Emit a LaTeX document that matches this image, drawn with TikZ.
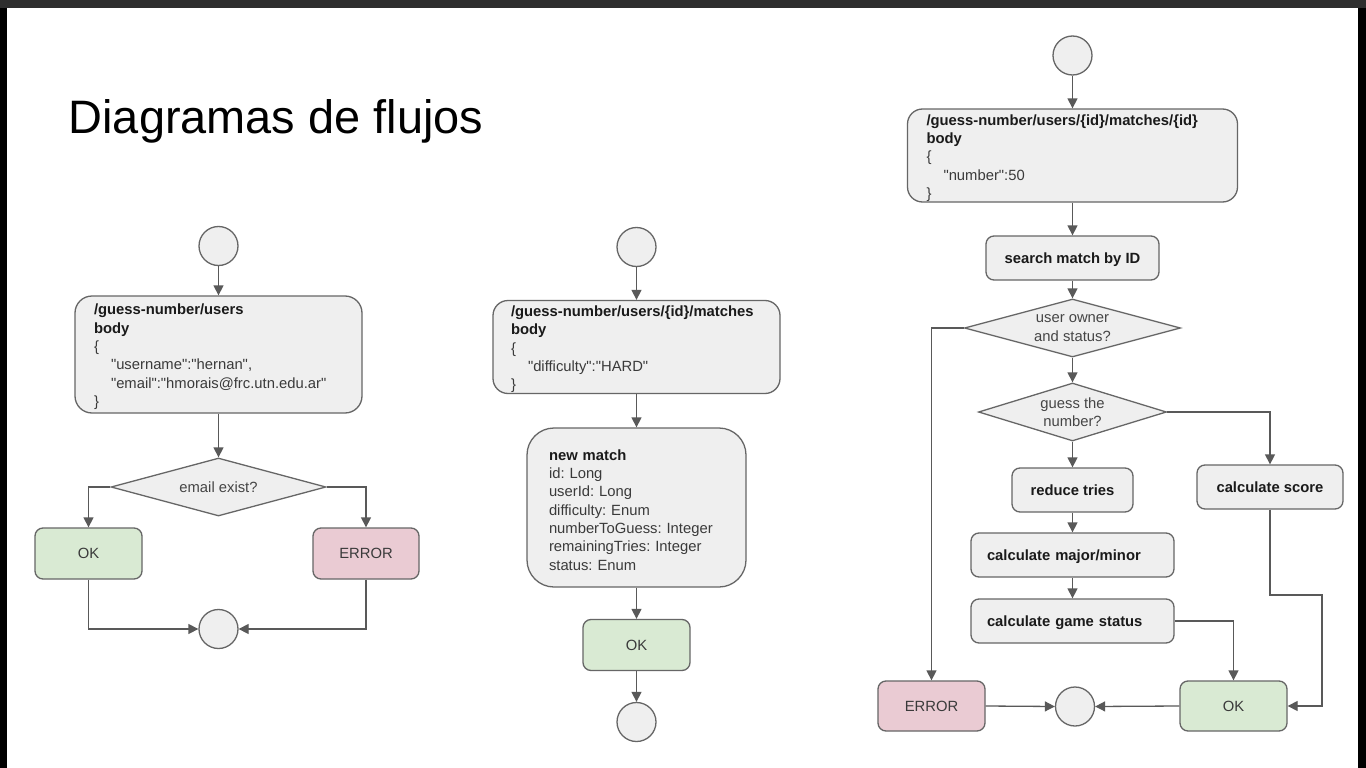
\documentclass[tikz,border=0pt]{standalone}
\usepackage{fontspec}
\setmainfont{Liberation Sans}
\usetikzlibrary{shapes.geometric,arrows.meta}
\definecolor{boxfill}{HTML}{EFEFEF}
\definecolor{linec}{HTML}{666666}
\definecolor{arrowc}{HTML}{595959}
\definecolor{okfill}{HTML}{D9EAD3}
\definecolor{errfill}{HTML}{EACBD3}
\definecolor{txt}{HTML}{3A3A3A}
\definecolor{boldc}{HTML}{1A1A1A}
\definecolor{diatext}{HTML}{454545}
\definecolor{topbar}{HTML}{2E2E2E}
\newcommand\flowfont{\fontsize{14.8}{18.3}\selectfont\frenchspacing}
\newcommand\hb[1]{\textbf{\color{boldc}#1}}
\newcommand\qq{\textquotedbl}
\newcommand\toprule{\rule{0pt}{15.5pt}}
\tikzset{
  flow/.style={draw=linec, line width=1.3pt, fill=boxfill},
  circ/.style={circle, flow, minimum size=39pt, inner sep=0pt},
  proc/.style={rectangle, rounded corners=8pt, flow, inner sep=0pt, minimum height=44pt, text height=10.8pt, text depth=0pt, font=\flowfont\bfseries, text=boldc},
  okbox/.style={proc, fill=okfill, font=\flowfont, text=txt, minimum width=107pt, minimum height=51pt},
  errbox/.style={proc, fill=errfill, font=\flowfont, text=txt, minimum width=107pt, minimum height=51pt},
  dec/.style={diamond, flow, inner sep=0pt, font=\flowfont, text=diatext, align=center},
  bigbox/.style={rectangle, flow, align=left, inner ysep=0pt, font=\flowfont, text=txt},
  conn/.style={draw=arrowc, line width=1.3pt, -{Triangle[length=10pt,width=10pt]}},
}
\begin{document}
\begin{tikzpicture}[x=1pt,y=-1pt]
\path[use as bounding box] (0,0) rectangle (1366,768);
\fill[white] (0,0) rectangle (1366,768);
\fill[topbar] (0,0) rectangle (1366,8);
\fill[black] (0,8) rectangle (7,768);
\fill[black] (1358,8) rectangle (1366,768);

\node[anchor=base west, inner sep=0pt, font=\fontsize{46.9}{56}\selectfont, text=black] (title) at (68.5,133) {Diagramas de flujos};

% ---------- left flow ----------
\node[circ] (s1) at (218.5,246) {};
\node[bigbox, rounded corners=17pt, text width=249pt, inner xsep=19pt, minimum height=117pt] (b1) at (218.5,354.5)
 {\toprule\hb{/guess-number/users}\\ \hb{body}\\ \{\\ \hspace*{17pt}\qq username\qq:\qq hernan\qq,\\ \hspace*{17pt}\qq email\qq:\qq hmorais@frc.utn.edu.ar\qq\\ \}};
\node[dec, minimum width=215pt, minimum height=58pt, shape aspect=3.7] (d1) at (218.5,487) {email exist?};
\node[okbox] (ok1) at (88.5,553.5) {OK};
\node[errbox, minimum width=106pt] (err1) at (366,553.5) {ERROR};
\node[circ] (e1) at (218.5,629) {};
\draw[conn] (s1) -- (b1);
\draw[conn] (b1) -- (d1);
\draw[conn] (d1.west) -| (ok1.north);
\draw[conn] (d1.east) -| (err1.north);
\draw[conn] (ok1.south) |- (e1.west);
\draw[conn] (err1.south) |- (e1.east);

% ---------- middle flow ----------
\node[circ] (s2) at (636.5,247) {};
\node[bigbox, rounded corners=15pt, text width=251pt, inner xsep=18pt, minimum height=93pt] (b2) at (636.5,347)
 {\toprule\hb{/guess-number/users/\{id\}/matches}\\ \hb{body}\\ \{\\ \hspace*{17pt}\qq difficulty\qq:\qq HARD\qq\\ \}};
\node[bigbox, rounded corners=27pt, text width=175pt, inner xsep=22pt, minimum height=159pt] (b3) at (636.5,507.5)
 {\toprule\hb{new match}\\ id: Long\\ userId: Long\\ difficulty: Enum\\ numberToGuess: Integer\\ remainingTries: Integer\\ status: Enum};
\node[okbox] (ok2) at (636.5,645) {OK};
\node[circ] (e2) at (636.5,722) {};
\draw[conn] (s2) -- (b2);
\draw[conn] (b2) -- (b3);
\draw[conn] (b3) -- (ok2);
\draw[conn] (ok2) -- (e2);

% ---------- right flow ----------
\node[circ] (s3) at (1072.5,55.5) {};
\node[bigbox, rounded corners=15pt, text width=292pt, inner xsep=19pt, minimum height=93pt] (b4) at (1072.5,155.5)
 {\toprule\hb{/guess-number/users/\{id\}/matches/\{id\}}\\ \hb{body}\\ \{\\ \hspace*{17pt}\qq number\qq:50\\ \}};
\node[proc, minimum width=173pt] (sr) at (1072.5,258) {search match by ID};
\node[dec, minimum width=216pt, minimum height=58pt, shape aspect=3.7] (d2) at (1072.5,328) {user owner\\and status?};
\node[dec, minimum width=188pt, minimum height=58pt, shape aspect=3.2] (d3) at (1072.5,412) {guess the\\number?};
\node[proc, minimum width=121pt] (rt) at (1072.5,490) {reduce tries};
\node[proc, minimum width=146pt] (cs) at (1270,487) {calculate score};
\node[proc, text width=171pt, align=left, inner xsep=16pt] (mm) at (1072.5,555) {calculate major/minor};
\node[proc, text width=171pt, align=left, inner xsep=16pt] (gs) at (1072.5,621) {calculate game status};
\node[errbox, minimum height=50pt] (err3) at (931.5,706) {ERROR};
\node[circ] (e3) at (1075,706.5) {};
\node[okbox, minimum height=50pt] (ok3) at (1233.5,706) {OK};
\coordinate (c1) at (1322,595);

\draw[conn] (s3) -- (b4);
\draw[conn] (b4) -- (sr);
\draw[conn] (sr) -- (d2);
\draw[conn] (d2.west) -| (err3.north);
\draw[conn] (d2) -- (d3);
\draw[conn] (d3.east) -| (cs.north);
\draw[conn] (d3) -- (rt);
\draw[conn] (rt) -- (mm);
\draw[conn] (mm) -- (gs);
\draw[conn] (gs.east) -| (ok3.north);
\draw[conn] (cs.south) |- (c1) |- (ok3.east);
\draw[conn] (err3.east) -- (e3.west);
\draw[conn] (ok3.west) -- (e3.east);
\end{tikzpicture}
\end{document}
